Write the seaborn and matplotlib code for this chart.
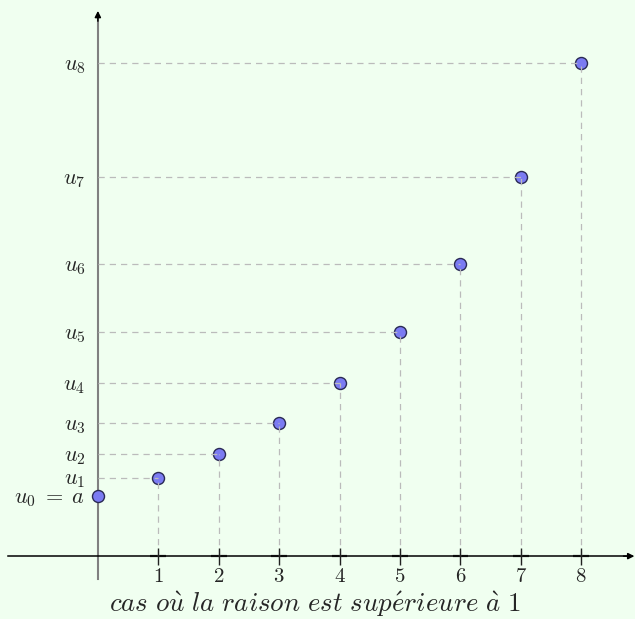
import matplotlib
matplotlib.use("Agg")
import matplotlib.pyplot as plt
import seaborn as sns
import pandas as pd

sns.set_theme(style="white")
plt.rcParams["mathtext.fontset"] = "cm"

# data
n_values = [0, 1, 2, 3, 4, 5, 6, 7, 8]
u_values = [1.0, 1.3, 1.69, 2.197, 2.856, 3.713, 4.827, 6.275, 8.157]
u_labels = [r"$u_0\;=\;a$", r"$u_1$", r"$u_2$", r"$u_3$", r"$u_4$",
            r"$u_5$", r"$u_6$", r"$u_7$", r"$u_8$"]
x_ticks = [1, 2, 3, 4, 5, 6, 7, 8]
x_tick_labels = [r"$%d$" % t for t in x_ticks]
caption = r"$\mathit{cas\ o\grave{u}\ la\ raison\ est\ sup\acute{e}rieure\ \grave{a}\ 1}$"

df = pd.DataFrame({"n": n_values, "u": u_values})

bg = "#F0FFF0"
fig = plt.figure(figsize=(6.35, 6.19), dpi=100, facecolor=bg)
ax = fig.add_axes([0, 0, 1, 1])
ax.set_facecolor(bg)
ax.set_xlim(-1.62, 8.89)
ax.set_ylim(-1.04, 9.2)

# dashed guide lines
ax.hlines(df["u"][1:], 0, df["n"][1:], colors="#bbbbbb", linestyles=(0, (5, 4)),
          linewidth=0.9, zorder=4)
ax.vlines(df["n"][1:], 0, df["u"][1:], colors="#bbbbbb", linestyles=(0, (5, 4)),
          linewidth=0.9, zorder=4)

sns.scatterplot(data=df, x="n", y="u", ax=ax, s=75, color="#7B7BF2",
                edgecolor="#2a2a55", linewidth=1.0, zorder=3, legend=False)

# spines as axes
for s in ["top", "right"]:
    ax.spines[s].set_visible(False)
ax.spines["bottom"].set_position(("data", 0))
ax.spines["bottom"].set_bounds(-1.49, 8.8)
ax.spines["bottom"].set_color("black")
ax.spines["bottom"].set_linewidth(1.1)
ax.spines["left"].set_position(("data", 0))
ax.spines["left"].set_bounds(-0.38, 8.9)
ax.spines["left"].set_color("#808080")
ax.spines["left"].set_linewidth(1.5)

ax.annotate("", xy=(8.88, 0), xytext=(8.7, 0),
            arrowprops=dict(arrowstyle="-|>", color="black", lw=1.1,
                            mutation_scale=9, shrinkA=0, shrinkB=0))
ax.annotate("", xy=(0, 9.02), xytext=(0, 8.85),
            arrowprops=dict(arrowstyle="-|>", color="black", lw=1.1,
                            mutation_scale=9, shrinkA=0, shrinkB=0))

ax.set_xticks(x_ticks)
ax.set_xticklabels(x_tick_labels, fontsize=15)
ax.tick_params(axis="x", length=0, pad=7)
# tick marks as crosses
ax.vlines(x_ticks, -0.14, 0.14, colors="#222222", linewidth=1.0, zorder=5)
ax.hlines([0] * len(x_ticks), [t - 0.13 for t in x_ticks], [t + 0.13 for t in x_ticks],
          colors="#333333", linewidth=1.6, zorder=2)

ax.set_yticks(u_values)
ax.set_yticklabels(u_labels, fontsize=16)
ax.tick_params(axis="y", length=0, pad=9)
ax.set_xlabel("")
ax.set_ylabel("")
ax.grid(False)

fig.text(315 / 635, 1 - 604 / 619, caption, fontsize=19.4, ha="center", va="center")

fig.savefig("out.png", dpi=100, facecolor=bg)
